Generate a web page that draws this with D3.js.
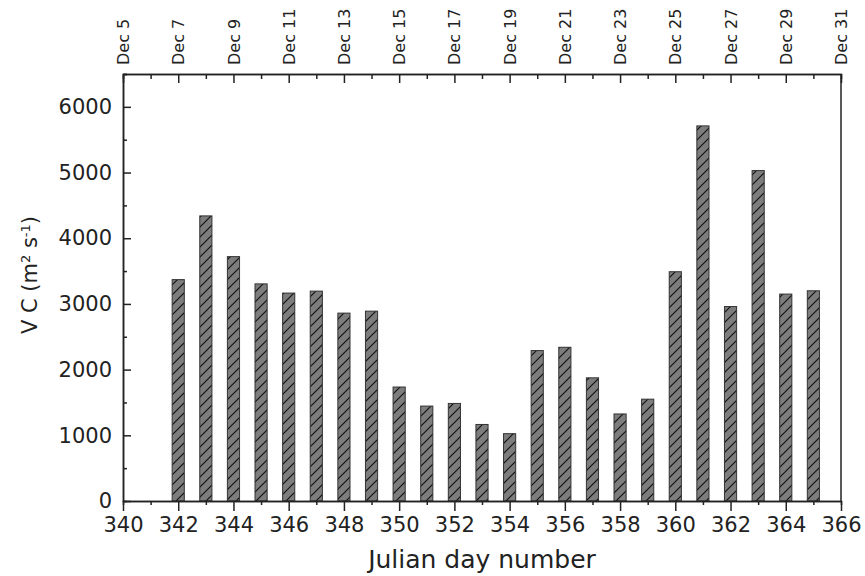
<!DOCTYPE html>
<html>
<head>
<meta charset="utf-8">
<script src="https://cdn.jsdelivr.net/npm/d3@7"></script>
<style>
  body { margin: 0; background: #fff; }
  svg { font-family: "DejaVu Sans", Verdana, sans-serif; }
</style>
</head>
<body>
<div id="chart"></div>
<script>
// ---------------------------------------------
// ---------         Data              ---------
// ---------------------------------------------

// julian day of each bar
var days = [342, 343, 344, 345, 346, 347, 348, 349, 350, 351, 352, 353,
            354, 355, 356, 357, 358, 359, 360, 361, 362, 363, 364, 365];

// VC values (m2 s-1)
var vcValues = [3370, 4340, 3720, 3305, 3165, 3195, 2860, 2890, 1735, 1445, 1485, 1165,
                1025, 2290, 2340, 1875, 1325, 1550, 3490, 5710, 2960, 5030, 3150, 3200];

// bottom axis
var xMajorTicks = [340, 342, 344, 346, 348, 350, 352, 354, 356, 358, 360, 362, 364, 366];
var xMinorTicks = [341, 343, 345, 347, 349, 351, 353, 355, 357, 359, 361, 363, 365];

// top axis labels (calendar dates of the even days)
var topTickLabels = ["Dec 5", "Dec 7", "Dec 9", "Dec 11", "Dec 13", "Dec 15", "Dec 17",
                     "Dec 19", "Dec 21", "Dec 23", "Dec 25", "Dec 27", "Dec 29", "Dec 31"];

// left axis
var yMajorTicks = [0, 1000, 2000, 3000, 4000, 5000, 6000];
var yMinorTicks = [500, 1500, 2500, 3500, 4500, 5500, 6500];

// ---------------------------------------------
// ---------    Basic Chart Layout      --------
// ---------------------------------------------

var totalWidth = 865, totalHeight = 576;
var margin = {top: 74, right: 24, bottom: 75, left: 123};
var width = totalWidth - margin.left - margin.right;
var height = totalHeight - margin.top - margin.bottom;
var axisColor = "#222";

var svgRoot = d3.select("#chart")
  .append("svg")
    .attr("width", totalWidth)
    .attr("height", totalHeight);

// hatch pattern for the bars
var defs = svgRoot.append("defs");
var pattern = defs.append("pattern")
    .attr("id", "hatch")
    .attr("patternUnits", "userSpaceOnUse")
    .attr("width", 10)
    .attr("height", 10);
pattern.append("rect")
    .attr("width", 10)
    .attr("height", 10)
    .attr("fill", "#7d7d7d");
pattern.append("path")
    .attr("d", "M-1,11 L11,-1 M-3,3 L3,-3 M7,13 L13,7")
    .attr("stroke", "#111")
    .attr("stroke-width", 1.2);

var svg = svgRoot.append("g")
    .attr("transform", "translate(" + margin.left + "," + margin.top + ")");

var x = d3.scaleLinear().domain([340, 366]).range([0, width]);
var y = d3.scaleLinear().domain([0, 6500]).range([height, 0]);

var barWidth = x(342.44) - x(342);

// ---------------------------------------------
// ---------       Chart Data           --------
// ---------------------------------------------

var barData = days.map(function(d, i) { return {day: d, value: vcValues[i]}; });

svg.append("g")
  .selectAll("rect")
  .data(barData)
  .join("rect")
    .attr("x", function(d) { return x(d.day) - barWidth / 2; })
    .attr("y", function(d) { return y(d.value); })
    .attr("width", barWidth)
    .attr("height", function(d) { return y(0) - y(d.value); })
    .attr("fill", "url(#hatch)")
    .attr("stroke", "#333")
    .attr("stroke-width", 1);

// ---------------------------------------------
// ---------          Axes              --------
// ---------------------------------------------

function styleAxis(g) {
  g.select(".domain").attr("stroke", axisColor).attr("stroke-width", 1.5);
  g.selectAll(".tick line").attr("stroke", axisColor).attr("stroke-width", 1.5);
  g.selectAll(".tick text").attr("fill", axisColor);
}

// bottom axis
svg.append("g")
    .attr("transform", "translate(0," + height + ")")
    .call(d3.axisBottom(x).tickValues(xMinorTicks).tickSize(4).tickFormat(""))
    .call(styleAxis);

svg.append("g")
    .attr("transform", "translate(0," + height + ")")
    .call(d3.axisBottom(x).tickValues(xMajorTicks).tickSize(10).tickSizeOuter(0).tickPadding(6)
      .tickFormat(d3.format("d")))
    .call(styleAxis)
    .call(function(g) { g.attr("font-family", null).attr("font-size", 21); });

// top axis (ticks pointing inward)
svg.append("g")
    .call(d3.axisTop(x).tickValues(xMinorTicks).tickSize(-5).tickFormat(""))
    .call(styleAxis);

var topAxis = svg.append("g")
    .call(d3.axisTop(x).tickValues(xMajorTicks).tickSize(-9).tickSizeOuter(0)
      .tickFormat(function(d, i) { return topTickLabels[i]; }))
    .call(styleAxis)
    .call(function(g) { g.attr("font-family", null).attr("font-size", 16); });

topAxis.selectAll(".tick text")
    .attr("transform", "rotate(-90)")
    .attr("x", 9)
    .attr("y", 0)
    .attr("dy", "0.35em")
    .attr("text-anchor", "start");

// left axis (ticks pointing inward)
svg.append("g")
    .call(d3.axisLeft(y).tickValues(yMinorTicks).tickSize(-4).tickFormat(""))
    .call(styleAxis);

svg.append("g")
    .call(d3.axisLeft(y).tickValues(yMajorTicks).tickSize(-8).tickSizeOuter(0).tickPadding(11)
      .tickFormat(d3.format("d")))
    .call(styleAxis)
    .call(function(g) { g.attr("font-family", null).attr("font-size", 21); });

// right border
svg.append("line")
    .attr("x1", width)
    .attr("x2", width)
    .attr("y1", 0)
    .attr("y2", height)
    .attr("stroke", axisColor)
    .attr("stroke-width", 1.5);

// ---------------------------------------------
// ---------        Axis titles         --------
// ---------------------------------------------

svg.append("text")
    .attr("x", width / 2)
    .attr("y", height + 67)
    .attr("text-anchor", "middle")
    .attr("font-size", 25)
    .attr("fill", axisColor)
    .text("Julian day number");

var yLabel = svgRoot.append("text")
    .attr("transform", "translate(37,275) rotate(-90)")
    .attr("text-anchor", "middle")
    .attr("font-size", 21)
    .attr("fill", axisColor);

yLabel.append("tspan").text("V C (m");
yLabel.append("tspan").attr("font-size", 13).attr("baseline-shift", "super").text("2");
yLabel.append("tspan").text(" s");
yLabel.append("tspan").attr("font-size", 13).attr("baseline-shift", "super").text("-1");
yLabel.append("tspan").text(")");
</script>
</body>
</html>
